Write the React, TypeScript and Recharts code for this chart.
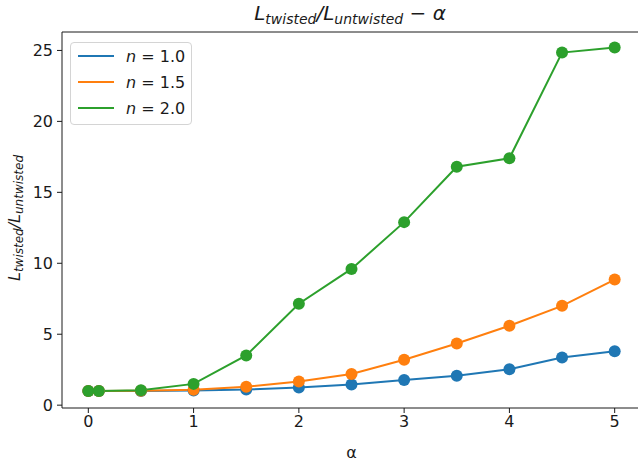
import { LineChart, Line, XAxis, YAxis, Legend, ReferenceLine } from "recharts"

const alpha = [0, 0.1, 0.5, 1, 1.5, 2, 2.5, 3, 3.5, 4, 4.5, 5]
const n10 = [1.0, 1.0, 1.0, 1.04, 1.1, 1.25, 1.45, 1.77, 2.08, 2.53, 3.36, 3.8]
const n15 = [1.0, 1.0, 1.02, 1.08, 1.3, 1.67, 2.2, 3.2, 4.35, 5.6, 7.0, 8.85]
const n20 = [1.0, 1.0, 1.05, 1.5, 3.5, 7.15, 9.6, 12.9, 16.8, 17.4, 24.85, 25.2]
const xTicks = [0, 1, 2, 3, 4, 5]
const yTicks = [0, 5, 10, 15, 20, 25]

const data = alpha.map((a, i) => ({ alpha: a, n10: n10[i], n15: n15[i], n20: n20[i] }))

const font = "'DejaVu Sans', sans-serif"
const ink = "#1a1a1a"

const LegendBox = ({ payload }: any) => (
  <div
    style={{
      border: "1px solid #d4d4d4",
      borderRadius: 4,
      background: "rgba(255,255,255,0.85)",
      width: 120,
      padding: "0 0 3px 0",
      fontFamily: font,
      fontSize: 16,
      color: ink,
    }}
  >
    {(payload || []).map((p: any) => (
      <div key={p.value} style={{ display: "flex", alignItems: "center", height: 26 }}>
        <svg width={44} height={4} style={{ marginLeft: 7 }}>
          <line x1={0} y1={2} x2={36} y2={2} stroke={p.color} strokeWidth={2} />
        </svg>
        <span style={{ marginLeft: 4, whiteSpace: "nowrap" }}>
          <i>n</i> = {p.value}
        </span>
      </div>
    ))}
  </div>
)

export default function App() {
  const dot = (c: string) => ({ r: 6, fill: c, stroke: c, strokeWidth: 0 })
  return (
    <div style={{ position: "absolute", left: 0, top: 0, width: 638, height: 462, overflow: "hidden", background: "#fff" }}>
      <LineChart width={642} height={462} data={data} margin={{ top: 32, right: 1, bottom: 0, left: 0 }}>
        <XAxis
          type="number"
          dataKey="alpha"
          domain={[-0.25, 5.25]}
          ticks={xTicks}
          allowDataOverflow
          height={54}
          tickSize={5}
          tickMargin={3}
          stroke={ink}
          tick={{ fill: ink, fontSize: 16, fontFamily: font }}
          label={{ value: "α", position: "insideBottom", offset: 4, fill: ink, fontSize: 16, fontFamily: font }}
        />
        <YAxis
          type="number"
          domain={[-0.2, 26.3]}
          ticks={yTicks}
          allowDataOverflow
          width={62}
          tickSize={5}
          tickMargin={4}
          stroke={ink}
          tick={{ fill: ink, fontSize: 16, fontFamily: font }}
        />
        <ReferenceLine y={26.3} stroke={ink} strokeWidth={1} />
        <Legend
          layout="vertical"
          align="center"
          verticalAlign="middle"
          content={<LegendBox />}
          wrapperStyle={{ left: 70, top: 42, width: "auto" }}
        />
        <Line dataKey="n10" name="1.0" stroke="#1f77b4" strokeWidth={2} dot={dot("#1f77b4")} activeDot={false} isAnimationActive={false} />
        <Line dataKey="n15" name="1.5" stroke="#ff7f0e" strokeWidth={2} dot={dot("#ff7f0e")} activeDot={false} isAnimationActive={false} />
        <Line dataKey="n20" name="2.0" stroke="#2ca02c" strokeWidth={2} dot={dot("#2ca02c")} activeDot={false} isAnimationActive={false} />
        <text x={350} y={20} textAnchor="middle" fontFamily={font} fontStyle="italic" fontSize={20} fill={ink}>
          <tspan>L</tspan>
          <tspan fontSize={14} dy={4}>twisted</tspan>
          <tspan dy={-4}>/L</tspan>
          <tspan fontSize={14} dy={4}>untwisted</tspan>
          <tspan dy={-4} fontStyle="normal"> − </tspan>
          <tspan>α</tspan>
        </text>
        <text
          transform="translate(20,218) rotate(-90)"
          textAnchor="middle"
          fontFamily={font}
          fontStyle="italic"
          fontSize={16}
          fill={ink}
        >
          <tspan>L</tspan>
          <tspan fontSize={12} dy={3}>twisted</tspan>
          <tspan dy={-3}>/L</tspan>
          <tspan fontSize={12} dy={3}>untwisted</tspan>
        </text>
      </LineChart>
    </div>
  )
}
